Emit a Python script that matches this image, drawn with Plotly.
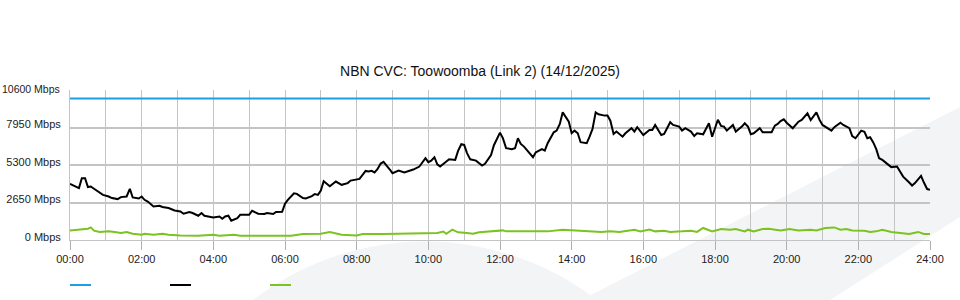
import plotly.graph_objects as go

# ---- data ----
TITLE = "NBN CVC: Toowoomba (Link 2) (14/12/2025)"
x_tick_hours = [0, 2, 4, 6, 8, 10, 12, 14, 16, 18, 20, 22, 24]
x_tick_labels = ["00:00", "02:00", "04:00", "06:00", "08:00", "10:00", "12:00",
                 "14:00", "16:00", "18:00", "20:00", "22:00", "24:00"]
y_tick_values = [0, 2650, 5300, 7950]
y_tick_labels = ["0 Mbps", "2650 Mbps", "5300 Mbps", "7950 Mbps"]
y_max = 10600
y_max_label = "10600 Mbps"

# capacity line (blue)
cap_hours = [0.0, 24.0]
cap_mbps = [10000, 10000]

# traffic (black) - hour of day, Mbps
traffic_hours = [
    0.00, 0.25, 0.33, 0.42, 0.50, 0.58, 0.67, 0.75, 0.92, 1.08, 1.17, 1.33, 1.42, 1.58, 1.67, 1.75,
    1.92, 2.00, 2.08, 2.17, 2.33, 2.50, 2.58, 2.75, 2.92, 3.08, 3.17, 3.33, 3.42, 3.58, 3.67, 3.75,
    3.92, 4.00, 4.17, 4.25, 4.33, 4.42, 4.50, 4.67, 4.75, 5.00, 5.08, 5.25, 5.42, 5.50, 5.67, 5.75,
    5.92, 6.00, 6.08, 6.25, 6.33, 6.42, 6.50, 6.58, 6.75, 6.83, 6.92, 7.00, 7.08, 7.25, 7.42, 7.58,
    7.75, 7.83, 8.00, 8.08, 8.25, 8.33, 8.42, 8.50, 8.58, 8.67, 8.75, 8.83, 8.92, 9.00, 9.17, 9.33,
    9.42, 9.58, 9.75, 9.92, 10.00, 10.08, 10.17, 10.25, 10.33, 10.50, 10.58, 10.75, 10.83, 10.92, 11.00, 11.08,
    11.17, 11.33, 11.50, 11.58, 11.75, 11.83, 12.00, 12.08, 12.17, 12.33, 12.42, 12.50, 12.58, 12.67, 12.75, 12.92,
    13.00, 13.08, 13.17, 13.25, 13.33, 13.50, 13.58, 13.67, 13.75, 13.92, 14.00, 14.08, 14.17, 14.25, 14.42, 14.50,
    14.58, 14.67, 14.75, 14.92, 15.00, 15.08, 15.17, 15.25, 15.42, 15.50, 15.67, 15.75, 15.83, 16.00, 16.17, 16.25,
    16.33, 16.50, 16.58, 16.75, 16.83, 17.00, 17.08, 17.17, 17.33, 17.42, 17.50, 17.67, 17.83, 17.92, 18.08, 18.17,
    18.25, 18.33, 18.50, 18.58, 18.75, 18.83, 18.92, 19.00, 19.08, 19.25, 19.33, 19.58, 19.67, 19.75, 19.83, 19.92,
    20.00, 20.17, 20.33, 20.42, 20.58, 20.67, 20.83, 20.92, 21.00, 21.25, 21.33, 21.50, 21.58, 21.75, 21.83, 21.92,
    22.08, 22.17, 22.25, 22.33, 22.42, 22.50, 22.58, 22.67, 22.83, 22.92, 23.08, 23.17, 23.25, 23.42, 23.50, 23.58,
    23.75, 23.83, 23.92, 24.00,
]
traffic_mbps = [
    3970, 3670, 4370, 4370, 3740, 3780, 3620, 3480, 3190, 3075, 2960, 2890, 3030, 3075, 3620, 3005,
    2930, 3075, 2840, 2720, 2370, 2420, 2330, 2255, 2090, 2015, 1855, 1975, 1905, 1715, 1905, 1715,
    1620, 1595, 1665, 1500, 1665, 1715, 1360, 1550, 1785, 1785, 2065, 1855, 1835, 1905, 1835, 1975,
    1995, 2560, 2840, 3300, 3260, 3100, 2960, 2930, 3100, 3250, 3190, 3500, 4150, 3800, 4130, 3900,
    4020, 4200, 4270, 4320, 4880, 4840, 4890, 4770, 5000, 5400, 5520, 5300, 5000, 4720, 4900, 4770,
    4840, 4980, 5190, 5780, 5500, 5600, 5850, 5350, 5190, 5590, 5710, 5660, 6300, 6770, 6720, 6140,
    5700, 5610, 5260, 5380, 6010, 6700, 7590, 7200, 6490, 6420, 6490, 7190, 6790, 6600, 6370, 5850,
    6200, 6320, 6420, 6320, 6840, 7610, 7730, 8200, 9020, 8360, 7550, 7730, 7540, 6910, 6840, 7300,
    7830, 9020, 8880, 8790, 8790, 8430, 7490, 7660, 7300, 7540, 7900, 7660, 7970, 7420, 7780, 7780,
    8130, 7420, 7490, 8320, 8130, 8010, 7730, 7900, 7660, 7350, 7540, 7470, 8250, 7300, 8500, 8060,
    8010, 7730, 8130, 7660, 8010, 8250, 8010, 7470, 7540, 7900, 7610, 7610, 8080, 8200, 8400, 8530,
    8290, 7900, 8360, 8480, 8950, 8480, 9020, 8480, 8130, 7730, 7970, 8290, 8130, 7900, 7350, 7190,
    7730, 7640, 7190, 7260, 6880, 6420, 5780, 5660, 5310, 5150, 5190, 4790, 4480, 4060, 3850, 4020,
    4530, 4060, 3600, 3550,
]

# second traffic series (green) - hour of day, Mbps
green_hours = [
    0.00, 0.33, 0.50, 0.58, 0.67, 0.83, 1.08, 1.25, 1.42, 1.58, 1.75, 2.00, 2.08, 2.33, 2.58, 2.75,
    3.00, 3.08, 3.58, 4.00, 4.17, 4.58, 4.75, 5.50, 6.17, 6.50, 7.00, 7.25, 7.42, 7.58, 8.00, 8.17,
    8.75, 9.00, 9.17, 9.67, 10.00, 10.25, 10.42, 10.50, 10.67, 10.83, 11.08, 11.25, 11.42, 11.75, 12.08, 12.17,
    12.75, 13.33, 13.75, 14.17, 14.58, 14.83, 15.08, 15.33, 15.75, 15.92, 16.17, 16.33, 16.58, 16.75, 17.08, 17.33,
    17.50, 17.67, 17.92, 18.17, 18.42, 18.58, 18.83, 18.92, 19.08, 19.33, 19.50, 19.83, 20.08, 20.33, 20.67, 20.83,
    21.08, 21.25, 21.33, 21.50, 21.67, 21.83, 22.17, 22.33, 22.50, 22.67, 22.92, 23.17, 23.42, 23.67, 23.83, 24.00,
]
green_mbps = [
    680, 730, 800, 890, 660, 560, 610, 560, 490, 560, 440, 370, 440, 370, 440, 370,
    370, 320, 300, 370, 300, 370, 300, 300, 300, 420, 440, 560, 440, 370, 320, 420,
    420, 440, 420, 490, 490, 490, 600, 440, 730, 540, 490, 440, 540, 600, 680, 610,
    610, 610, 730, 680, 610, 570, 610, 570, 730, 610, 740, 610, 660, 570, 610, 660,
    570, 850, 610, 775, 730, 775, 610, 730, 610, 775, 800, 680, 775, 680, 730, 680,
    850, 850, 890, 730, 775, 680, 660, 570, 610, 730, 570, 490, 420, 570, 420, 420,
]

BLUE = "#1E9FE3"
BLACK = "#000000"
GREEN = "#7CC221"
GRID = "#c4c4c4"
WM = "#f3f4f6"
FONT = "Liberation Sans, Arial, sans-serif"

# ---- layout geometry (pixels) ----
W, H = 960, 300
L, R, T, B = 70, 30, 90, 60
PW, PH = W - L - R, H - T - B


def px(x):
    return (x - L) / PW


def py(y):
    return (H - B - y) / PH


fig = go.Figure()
fig.add_trace(go.Scatter(x=cap_hours, y=cap_mbps, mode="lines",
                         line=dict(color=BLUE, width=2), showlegend=False, hoverinfo="skip"))
fig.add_trace(go.Scatter(x=green_hours, y=green_mbps, mode="lines",
                         line=dict(color=GREEN, width=2), showlegend=False))
fig.add_trace(go.Scatter(x=traffic_hours, y=traffic_mbps, mode="lines",
                         line=dict(color=BLACK, width=2), showlegend=False))

shapes = []
# background watermark
shapes.append(dict(type="circle", xref="paper", yref="paper", layer="below",
                   x0=px(143), x1=px(707), y0=py(805.5), y1=py(241.5),
                   fillcolor=WM, line=dict(width=0)))
band = [(581, 300), (960, 107), (960, 217), (830, 300)]
path = "M " + " L ".join(f"{px(a):.5f},{py(b):.5f}" for a, b in band) + " Z"
shapes.append(dict(type="path", xref="paper", yref="paper", layer="below", path=path,
                   fillcolor=WM, line=dict(width=0)))
# legend swatches (no text in reference)
for x0, col in [(70, BLUE), (170, BLACK), (270, GREEN)]:
    shapes.append(dict(type="line", xref="paper", yref="paper",
                       x0=px(x0), x1=px(x0 + 21), y0=py(285), y1=py(285),
                       line=dict(color=col, width=2)))

fig.update_layout(
    width=W, height=H,
    margin=dict(l=L, r=R, t=T, b=B, autoexpand=False),
    paper_bgcolor="white", plot_bgcolor="rgba(0,0,0,0)",
    font=dict(family=FONT, size=11, color="#222"),
    title=dict(text=TITLE, x=0.5, xref="container", xanchor="center",
               y=(H - 70.7) / H, yanchor="middle",
               font=dict(size=14, color="#111")),
    showlegend=False,
    shapes=shapes,
    annotations=[dict(text=y_max_label, xref="paper", yref="y", x=px(60.5), y=y_max,
                      xanchor="right", yanchor="middle", yshift=1, showarrow=False,
                      borderpad=0, font=dict(family=FONT, size=10.5, color="#222"))],
    xaxis=dict(range=[0, 24], tickmode="array", tickvals=x_tick_hours, ticktext=x_tick_labels,
               showgrid=True, gridcolor=GRID, gridwidth=1, automargin=False,
               minor=dict(dtick=1, showgrid=True, gridcolor=GRID, gridwidth=1, ticks=""),
               ticks="outside", ticklen=9, tickcolor="#b0b0b0", tickwidth=1,
               showline=True, linecolor=GRID, linewidth=1, zeroline=False,
               tickfont=dict(size=11, color="#222")),
    yaxis=dict(range=[0, y_max], tickmode="array", tickvals=y_tick_values, ticktext=y_tick_labels,
               showgrid=True, gridcolor=GRID, gridwidth=2, automargin=False,
               showline=True, linecolor=GRID, linewidth=1, zeroline=False,
               ticks="", ticklabelstandoff=6, ticklabelshift=-3,
               tickfont=dict(size=11, color="#222")),
)

fig.write_html("out.html")
